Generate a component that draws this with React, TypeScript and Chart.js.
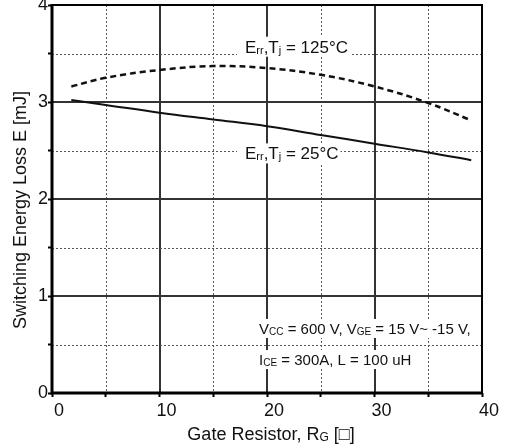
import React, { useEffect, useRef } from "react";
import { Chart, registerables } from "chart.js";
Chart.register(...registerables);

// Gate resistor values [ohm]
const rgOhm = [1.8, 5, 10, 15, 20, 25, 30, 35, 39];
// Err at Tj = 125°C [mJ]
const err125 = [3.16, 3.25, 3.33, 3.37, 3.35, 3.28, 3.16, 2.99, 2.81];
// Err at Tj = 25°C [mJ]
const err25 = [3.02, 2.97, 2.89, 2.82, 2.75, 2.66, 2.57, 2.48, 2.4];
const xLabelTicks = [0, 10, 20, 30, 40];
const yLabelTicks = [0, 1, 2, 3, 4];

const FONT = '"Liberation Sans", Arial, Helvetica, sans-serif';

type Part = [string, boolean];

function measureRich(ctx: CanvasRenderingContext2D, parts: Part[], size: number, sub: number) {
  let w = 0;
  for (const [t, s] of parts) {
    ctx.font = `${s ? sub : size}px ${FONT}`;
    w += ctx.measureText(t).width;
  }
  return w;
}

function drawRich(
  ctx: CanvasRenderingContext2D,
  parts: Part[],
  x: number,
  capMid: number,
  size: number,
  sub: number,
  box?: [number, number, number, number]
) {
  const w = measureRich(ctx, parts, size, sub);
  const base = capMid + (size * 0.716) / 2;
  if (box) {
    ctx.fillStyle = "#fff";
    ctx.fillRect(x - box[0], capMid - box[2], w + box[0] + box[1], box[2] + box[3]);
  }
  ctx.fillStyle = "#111";
  ctx.textBaseline = "alphabetic";
  ctx.textAlign = "left";
  let cx = x;
  for (const [t, s] of parts) {
    ctx.font = `${s ? sub : size}px ${FONT}`;
    ctx.fillText(t, cx, base + (s ? 1 : 0));
    cx += ctx.measureText(t).width;
  }
  return w;
}

const decorPlugin = {
  id: "decor",
  beforeDatasetsDraw(chart: any) {
    const { ctx, chartArea: a, scales } = chart;
    const x = scales.x;
    const y = scales.y;
    ctx.save();
    // vertical grid
    for (let v = 5; v < 40; v += 5) {
      const major = v % 10 === 0;
      const px = Math.round(x.getPixelForValue(v)) + (major ? 0 : 0.5);
      ctx.beginPath();
      ctx.setLineDash(major ? [] : [2, 2]);
      ctx.lineWidth = major ? 2 : 1;
      ctx.strokeStyle = major ? "#333" : "#555";
      ctx.moveTo(px, a.top);
      ctx.lineTo(px, a.bottom);
      ctx.stroke();
    }
    // horizontal grid
    for (let v = 0.5; v < 4; v += 0.5) {
      const major = Math.abs(v - Math.round(v)) < 1e-6;
      const py = Math.round(y.getPixelForValue(v)) + (major ? 0 : 0.5);
      ctx.beginPath();
      ctx.setLineDash(major ? [] : [2, 2]);
      ctx.lineWidth = major ? 2 : 1;
      ctx.strokeStyle = major ? "#333" : "#555";
      ctx.moveTo(a.left, py);
      ctx.lineTo(a.right, py);
      ctx.stroke();
    }
    ctx.setLineDash([]);

    // curve labels
    const lx = x.getPixelForValue(17.95);
    drawRich(
      ctx,
      [["E", false], ["rr", true], [",T", false], ["j", true], [" = 125°C", false]],
      lx,
      y.getPixelForValue(3.57),
      17,
      11,
      [8, 2, 10, 10]
    );
    drawRich(
      ctx,
      [["E", false], ["rr", true], [",T", false], ["j", true], [" = 25°C", false]],
      lx,
      y.getPixelForValue(2.47),
      17,
      11,
      [8, 2, 10, 10]
    );
    // conditions
    const cx0 = x.getPixelForValue(19.26);
    drawRich(
      ctx,
      [["V", false], ["CC", true], [" = 600 V, V", false], ["GE", true], [" = 15 V~ -15 V,", false]],
      cx0,
      y.getPixelForValue(0.66),
      15,
      10,
      [2, 2, 10, 9]
    );
    drawRich(
      ctx,
      [["I", false], ["CE", true], [" = 300A, L = 100 uH", false]],
      cx0,
      y.getPixelForValue(0.34),
      15,
      10,
      [2, 2, 10, 9]
    );
    ctx.restore();
  },
  afterDatasetsDraw(chart: any) {
    const { ctx, chartArea: a } = chart;
    ctx.save();
    ctx.strokeStyle = "#000";
    ctx.lineWidth = 2;
    ctx.beginPath();
    ctx.moveTo(a.left, a.top);
    ctx.lineTo(a.right, a.top);
    ctx.lineTo(a.right, a.bottom);
    ctx.stroke();
    ctx.lineWidth = 3;
    ctx.beginPath();
    ctx.moveTo(a.left, a.top - 1);
    ctx.lineTo(a.left, a.bottom);
    ctx.lineTo(a.right + 1, a.bottom);
    ctx.stroke();
    ctx.restore();
  },
  afterDraw(chart: any) {
    const { ctx, chartArea: a } = chart;
    ctx.save();
    // x title
    const parts: Part[] = [["Gate Resistor, R", false], ["G", true], [" [□]", false]];
    const w = measureRich(ctx, parts, 18, 12);
    ctx.fillStyle = "#111";
    let cx = (a.left + a.right) / 2 + 4 - w / 2;
    ctx.textBaseline = "alphabetic";
    ctx.textAlign = "left";
    for (const [t, s] of parts) {
      ctx.font = `${s ? 12 : 18}px ${FONT}`;
      ctx.fillText(t, cx, 440 + (s ? 1 : 0));
      cx += ctx.measureText(t).width;
    }
    // y title
    ctx.translate(26, 210);
    ctx.rotate(-Math.PI / 2);
    ctx.font = `18px ${FONT}`;
    ctx.textAlign = "center";
    ctx.fillText("Switching Energy Loss E [mJ]", 0, 0);
    ctx.restore();
  },
};

export default function App() {
  const ref = useRef<HTMLCanvasElement>(null);
  useEffect(() => {
    const chart = new Chart(ref.current!, {
      type: "line",
      data: {
        datasets: [
          {
            label: "Err, Tj = 125°C",
            data: rgOhm.map((r, i) => ({ x: r, y: err125[i] })),
            borderColor: "#111",
            borderWidth: 2.5,
            borderDash: [6, 4],
            pointRadius: 0,
            tension: 0.4,
            fill: false,
          },
          {
            label: "Err, Tj = 25°C",
            data: rgOhm.map((r, i) => ({ x: r, y: err25[i] })),
            borderColor: "#111",
            borderWidth: 2,
            pointRadius: 0,
            tension: 0.4,
            fill: false,
          },
        ],
      },
      options: {
        animation: false,
        responsive: false,
        devicePixelRatio: 1,
        layout: { padding: { top: 5, right: 29, left: 0, bottom: 0 } },
        plugins: { legend: { display: false }, tooltip: { enabled: false } },
        scales: {
          x: {
            type: "linear",
            min: 0,
            max: 40,
            afterFit: (s: any) => {
              s.height = 55;
              s.paddingLeft = 0;
              s.paddingRight = 0;
            },
            ticks: {
              stepSize: 5,
              autoSkip: false,
              maxRotation: 0,
              labelOffset: 7,
              padding: 3,
              color: "#111",
              font: { family: FONT, size: 18 },
              callback: (v: any) => (xLabelTicks.includes(Number(v)) ? String(v) : ""),
            },
            grid: {
              drawOnChartArea: false,
              drawTicks: true,
              tickLength: 4,
              tickWidth: 2,
              tickColor: "#000",
            },
            border: { display: false },
          },
          y: {
            type: "linear",
            min: 0,
            max: 4,
            afterFit: (s: any) => {
              s.width = 52;
              s.paddingTop = 0;
              s.paddingBottom = 0;
            },
            ticks: {
              stepSize: 0.5,
              autoSkip: false,
              padding: 0,
              color: "#111",
              font: { family: FONT, size: 18 },
              callback: (v: any) => (yLabelTicks.includes(Number(v)) ? String(v) : ""),
            },
            grid: {
              drawOnChartArea: false,
              drawTicks: true,
              tickLength: 4,
              tickWidth: 2,
              tickColor: "#000",
            },
            border: { display: false },
          },
        },
      },
      plugins: [decorPlugin],
    });
    return () => chart.destroy();
  }, []);
  return (
    <div style={{ position: "absolute", left: 0, top: 0, width: 511, height: 448, background: "#fff" }}>
      <canvas ref={ref} width={511} height={448} style={{ display: "block", width: 511, height: 448 }} />
    </div>
  );
}
